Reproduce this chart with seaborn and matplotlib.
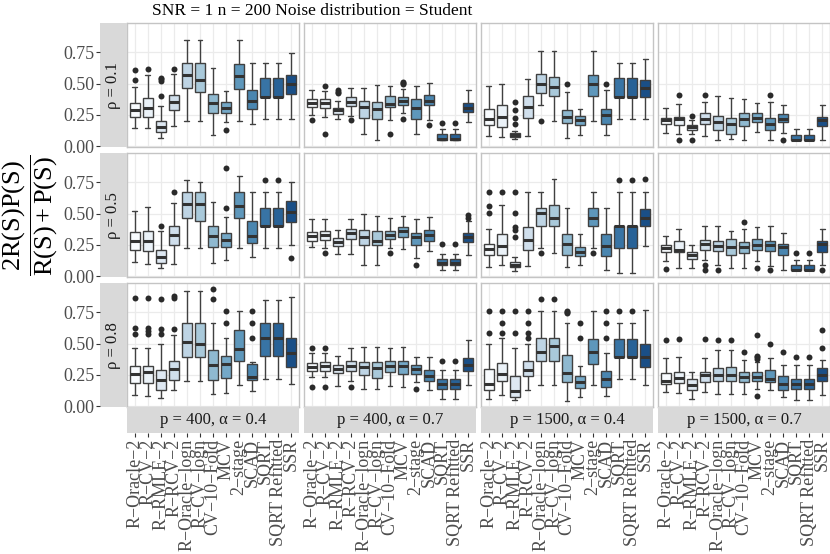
import numpy as np
import pandas as pd
import matplotlib
matplotlib.use("Agg")
import matplotlib.pyplot as plt
import seaborn as sns

methods = ["R−Oracle−2", "R−CV−2", "R−RMLE−2", "R−RCV−2", "R−Oracle−logn",
           "R−CV−logn", "CV−10−Fold", "MCV", "2−stage", "SCAD", "SQRT",
           "SQRT Refitted", "SSR"]
col_labels = ["p = 400, α = 0.4", "p = 400, α = 0.7",
              "p = 1500, α = 0.4", "p = 1500, α = 0.7"]
row_labels = ["ρ = 0.1", "ρ = 0.5", "ρ = 0.8"]
title = "SNR = 1 n = 200 Noise distribution = Student"

# box summaries, one row per panel (rho row by row, then p/alpha columns)
lo = [
    [0.145, 0.145, 0.066, 0.158, 0.203, 0.203, 0.089, 0.197, 0.203, 0.176, 0.221, 0.221, 0.221],
    [0.250, 0.237, 0.216, 0.242, 0.097, 0.053, 0.210, 0.263, 0.097, 0.210, 0.053, 0.053, 0.197],
    [0.079, 0.074, 0.058, 0.079, 0.329, 0.203, 0.066, 0.092, 0.203, 0.092, 0.221, 0.221, 0.221],
    [0.105, 0.100, 0.100, 0.079, 0.053, 0.061, 0.053, 0.110, 0.053, 0.105, 0.047, 0.047, 0.047],
    [0.117, 0.098, 0.066, 0.101, 0.226, 0.226, 0.106, 0.133, 0.226, 0.152, 0.226, 0.226, 0.253],
    [0.237, 0.226, 0.181, 0.181, 0.093, 0.093, 0.226, 0.218, 0.146, 0.199, 0.053, 0.053, 0.173],
    [0.072, 0.088, 0.040, 0.080, 0.226, 0.184, 0.074, 0.093, 0.226, 0.053, 0.027, 0.027, 0.239],
    [0.120, 0.066, 0.066, 0.133, 0.093, 0.066, 0.066, 0.120, 0.080, 0.048, 0.048, 0.048, 0.093],
    [0.087, 0.079, 0.065, 0.126, 0.200, 0.200, 0.095, 0.105, 0.166, 0.118, 0.218, 0.218, 0.179],
    [0.237, 0.232, 0.161, 0.205, 0.139, 0.139, 0.158, 0.153, 0.192, 0.132, 0.055, 0.055, 0.171],
    [0.061, 0.087, 0.047, 0.132, 0.166, 0.166, 0.042, 0.074, 0.171, 0.079, 0.218, 0.218, 0.166],
    [0.113, 0.105, 0.061, 0.113, 0.100, 0.100, 0.095, 0.139, 0.132, 0.074, 0.053, 0.053, 0.092],
]
q1 = [
    [0.237, 0.237, 0.111, 0.289, 0.468, 0.429, 0.266, 0.266, 0.460, 0.297, 0.395, 0.395, 0.418],
    [0.310, 0.303, 0.255, 0.321, 0.224, 0.221, 0.310, 0.329, 0.221, 0.326, 0.053, 0.053, 0.274],
    [0.171, 0.153, 0.071, 0.229, 0.426, 0.400, 0.184, 0.171, 0.400, 0.179, 0.395, 0.395, 0.395],
    [0.176, 0.166, 0.132, 0.179, 0.132, 0.100, 0.163, 0.195, 0.132, 0.195, 0.047, 0.047, 0.158],
    [0.210, 0.205, 0.106, 0.247, 0.465, 0.439, 0.231, 0.231, 0.465, 0.266, 0.399, 0.399, 0.434],
    [0.279, 0.293, 0.245, 0.298, 0.253, 0.247, 0.300, 0.314, 0.253, 0.279, 0.093, 0.093, 0.271],
    [0.168, 0.168, 0.072, 0.213, 0.399, 0.399, 0.168, 0.160, 0.399, 0.160, 0.226, 0.226, 0.399],
    [0.191, 0.191, 0.138, 0.213, 0.205, 0.173, 0.189, 0.213, 0.199, 0.173, 0.048, 0.048, 0.194],
    [0.184, 0.184, 0.126, 0.211, 0.395, 0.395, 0.213, 0.226, 0.363, 0.211, 0.397, 0.397, 0.316],
    [0.284, 0.284, 0.266, 0.284, 0.250, 0.224, 0.276, 0.258, 0.258, 0.205, 0.139, 0.139, 0.284],
    [0.132, 0.205, 0.074, 0.245, 0.363, 0.363, 0.192, 0.147, 0.337, 0.153, 0.395, 0.395, 0.311],
    [0.174, 0.187, 0.126, 0.197, 0.205, 0.205, 0.192, 0.205, 0.192, 0.126, 0.139, 0.139, 0.200],
]
med = [
    [0.289, 0.308, 0.150, 0.350, 0.571, 0.532, 0.342, 0.305, 0.560, 0.363, 0.395, 0.395, 0.500],
    [0.347, 0.342, 0.287, 0.355, 0.316, 0.300, 0.334, 0.363, 0.303, 0.363, 0.058, 0.058, 0.308],
    [0.218, 0.232, 0.087, 0.310, 0.500, 0.474, 0.237, 0.213, 0.500, 0.253, 0.395, 0.395, 0.463],
    [0.210, 0.216, 0.153, 0.221, 0.190, 0.179, 0.218, 0.229, 0.179, 0.218, 0.053, 0.053, 0.210],
    [0.285, 0.285, 0.157, 0.332, 0.577, 0.577, 0.319, 0.293, 0.564, 0.319, 0.399, 0.399, 0.511],
    [0.319, 0.332, 0.271, 0.343, 0.316, 0.285, 0.332, 0.359, 0.316, 0.327, 0.106, 0.106, 0.314],
    [0.221, 0.245, 0.093, 0.290, 0.503, 0.465, 0.258, 0.194, 0.465, 0.245, 0.404, 0.404, 0.465],
    [0.226, 0.213, 0.168, 0.258, 0.245, 0.234, 0.234, 0.253, 0.247, 0.231, 0.053, 0.053, 0.258],
    [0.258, 0.271, 0.211, 0.300, 0.513, 0.500, 0.326, 0.337, 0.455, 0.237, 0.542, 0.542, 0.426],
    [0.316, 0.321, 0.297, 0.321, 0.316, 0.303, 0.324, 0.318, 0.295, 0.239, 0.179, 0.179, 0.329],
    [0.179, 0.258, 0.118, 0.289, 0.429, 0.482, 0.268, 0.192, 0.429, 0.216, 0.395, 0.395, 0.395],
    [0.205, 0.226, 0.166, 0.250, 0.253, 0.253, 0.232, 0.237, 0.218, 0.179, 0.179, 0.179, 0.250],
]
q3 = [
    [0.342, 0.382, 0.205, 0.410, 0.663, 0.663, 0.416, 0.350, 0.655, 0.450, 0.542, 0.542, 0.568],
    [0.376, 0.374, 0.305, 0.392, 0.360, 0.353, 0.403, 0.390, 0.374, 0.410, 0.097, 0.097, 0.347],
    [0.300, 0.329, 0.105, 0.397, 0.574, 0.553, 0.290, 0.242, 0.571, 0.295, 0.545, 0.545, 0.526],
    [0.229, 0.237, 0.171, 0.266, 0.242, 0.229, 0.263, 0.268, 0.229, 0.255, 0.092, 0.092, 0.232],
    [0.351, 0.364, 0.213, 0.399, 0.670, 0.670, 0.399, 0.346, 0.670, 0.444, 0.545, 0.545, 0.598],
    [0.354, 0.364, 0.306, 0.380, 0.370, 0.364, 0.364, 0.394, 0.346, 0.367, 0.141, 0.141, 0.346],
    [0.261, 0.338, 0.112, 0.396, 0.545, 0.572, 0.340, 0.237, 0.545, 0.340, 0.404, 0.404, 0.537],
    [0.253, 0.285, 0.194, 0.293, 0.285, 0.298, 0.274, 0.298, 0.285, 0.258, 0.093, 0.093, 0.285],
    [0.321, 0.324, 0.289, 0.363, 0.660, 0.660, 0.447, 0.397, 0.608, 0.337, 0.660, 0.660, 0.547],
    [0.347, 0.353, 0.332, 0.363, 0.355, 0.355, 0.363, 0.363, 0.332, 0.292, 0.218, 0.218, 0.384],
    [0.295, 0.347, 0.242, 0.361, 0.542, 0.542, 0.408, 0.242, 0.534, 0.284, 0.539, 0.539, 0.495],
    [0.266, 0.274, 0.216, 0.276, 0.305, 0.311, 0.271, 0.271, 0.292, 0.239, 0.218, 0.218, 0.305],
]
hi = [
    [0.474, 0.566, 0.321, 0.579, 0.850, 0.850, 0.626, 0.437, 0.850, 0.660, 0.660, 0.660, 0.745],
    [0.447, 0.442, 0.360, 0.466, 0.466, 0.492, 0.479, 0.460, 0.479, 0.505, 0.137, 0.137, 0.447],
    [0.479, 0.500, 0.124, 0.539, 0.763, 0.763, 0.434, 0.300, 0.763, 0.447, 0.663, 0.663, 0.697],
    [0.303, 0.334, 0.210, 0.355, 0.403, 0.382, 0.379, 0.342, 0.355, 0.329, 0.137, 0.137, 0.329],
    [0.524, 0.551, 0.359, 0.585, 0.771, 0.750, 0.590, 0.471, 0.800, 0.670, 0.670, 0.670, 0.750],
    [0.457, 0.457, 0.367, 0.457, 0.500, 0.479, 0.465, 0.479, 0.457, 0.471, 0.178, 0.178, 0.439],
    [0.380, 0.572, 0.152, 0.670, 0.670, 0.779, 0.545, 0.338, 0.670, 0.545, 0.670, 0.670, 0.670],
    [0.319, 0.378, 0.247, 0.399, 0.399, 0.359, 0.378, 0.394, 0.399, 0.346, 0.133, 0.133, 0.378],
    [0.468, 0.468, 0.500, 0.568, 0.921, 0.921, 0.660, 0.542, 0.763, 0.350, 0.850, 0.850, 0.868],
    [0.421, 0.421, 0.403, 0.463, 0.476, 0.476, 0.468, 0.474, 0.389, 0.389, 0.292, 0.292, 0.529],
    [0.500, 0.542, 0.468, 0.500, 0.763, 0.763, 0.660, 0.318, 0.763, 0.426, 0.660, 0.660, 0.771],
    [0.384, 0.389, 0.271, 0.384, 0.447, 0.450, 0.368, 0.350, 0.384, 0.329, 0.329, 0.329, 0.371],
]
# outliers per panel: method index -> values
fliers = [
    {0: [0.61, 0.526], 1: [0.616], 2: [0.547, 0.534, 0.521, 0.40], 3: [0.616], 7: [0.13]},
    {0: [0.21], 1: [0.482, 0.095], 2: [0.447, 0.434, 0.421], 3: [0.21], 6: [0.097],
     7: [0.516, 0.505, 0.495, 0.221], 9: [0.171], 10: [0.182], 11: [0.182]},
    {2: [0.355, 0.29, 0.224, 0.176], 4: [0.203], 6: [0.5], 9: [0.5]},
    {1: [0.405, 0.053], 2: [0.242, 0.053], 3: [0.405], 8: [0.405], 9: [0.053]},
    {2: [0.399], 3: [0.67], 7: [0.545, 0.859], 10: [0.771], 11: [0.771], 12: [0.146]},
    {1: [0.186], 6: [0.186], 8: [0.093], 10: [0.261], 11: [0.261], 12: [0.487, 0.465]},
    {0: [0.67, 0.559, 0.505], 1: [0.67], 2: [0.67, 0.505, 0.391, 0.372, 0.314], 4: [0.184],
     8: [0.184], 10: [0.771], 11: [0.771], 12: [0.779]},
    {0: [0.061], 3: [0.093, 0.048], 4: [0.048], 6: [0.434], 7: [0.066], 8: [0.048],
     10: [0.184], 11: [0.184], 12: [0.048]},
    {0: [0.863, 0.626, 0.574], 1: [0.863, 0.626, 0.603, 0.579], 2: [0.858, 0.613, 0.574],
     3: [0.876, 0.863, 0.613], 6: [0.937, 0.855], 7: [0.763, 0.66], 9: [0.763, 0.66, 0.542]},
    {0: [0.466, 0.153], 1: [0.466, 0.153], 3: [0.153], 8: [0.139], 10: [0.363], 11: [0.363]},
    {0: [0.763, 0.587], 1: [0.763, 0.666, 0.587], 2: [0.763, 0.587], 3: [0.763, 0.666, 0.587, 0.542],
     4: [0.855], 5: [0.855], 6: [0.763, 0.753, 0.74], 7: [0.66, 0.542], 9: [0.763, 0.66, 0.542],
     10: [0.763], 11: [0.763]},
    {0: [0.529], 1: [0.539], 3: [0.539], 4: [0.529], 5: [0.529], 6: [0.429],
     7: [0.568, 0.403, 0.389, 0.376, 0.082], 8: [0.5], 9: [0.429], 10: [0.395], 11: [0.395],
     12: [0.608, 0.463]},
]

# long tables for seaborn
rows = []
for k in range(12):
    for j, m in enumerate(methods):
        for v in (lo[k][j], q1[k][j], med[k][j], q3[k][j], hi[k][j]):
            rows.append((k, m, v))
df = pd.DataFrame(rows, columns=["panel", "method", "value"])
frows = [(k, methods[j], v) for k in range(12) for j, vals in fliers[k].items() for v in vals]
fdf = pd.DataFrame(frows, columns=["panel", "method", "value"])

sns.set_theme(style="white")
plt.rcParams["font.family"] = ["Liberation Serif", "DejaVu Serif"]
plt.rcParams["mathtext.fontset"] = "custom"
plt.rcParams["mathtext.rm"] = "Liberation Serif"
plt.rcParams["mathtext.it"] = "Liberation Serif:italic"

cmap = plt.get_cmap("Blues")
pal = [cmap(v) for v in np.linspace(0.0, 0.88, len(methods))]

W, H = 830, 554
fig = plt.figure(figsize=(W / 100, H / 100), dpi=100)


def rect(x, y, w, h):
    return [x / W, 1 - (y + h) / H, w / W, h / H]


XLIM = (-0.6, len(methods) - 0.4)
YLIM = (-0.008, 0.98)
yt = [0, 0.25, 0.5, 0.75]
pw, ph = 172, 124

for k in range(12):
    r, c = divmod(k, 4)
    x0 = 127 + c * 177
    y0 = 23.3 + r * 130
    ax = fig.add_axes(rect(x0, y0, pw, ph))
    sns.boxplot(data=df[df.panel == k], x="method", y="value", hue="method",
                order=methods, hue_order=methods, palette=pal, width=0.75,
                whis=(0, 100), showfliers=False, linecolor="#404040", linewidth=1.0,
                medianprops={"linewidth": 2.2, "color": "#333333"},
                legend=False, ax=ax)
    sub = fdf[fdf.panel == k]
    if len(sub):
        sns.stripplot(data=sub, x="method", y="value", order=methods, jitter=False,
                      color="#2a2a2a", size=4.3, ax=ax)
    ax.set_xlim(XLIM)
    ax.set_ylim(YLIM)
    ax.set_xticks(range(len(methods)))
    ax.set_yticks(yt)
    ax.set_xticklabels([])
    ax.set_yticklabels([])
    ax.tick_params(length=0)
    ax.set_xlabel("")
    ax.set_ylabel("")
    ax.grid(True, color="#ebebeb", linewidth=0.9)
    ax.set_axisbelow(True)
    for s in ax.spines.values():
        s.set_color("#c4c4c4")
        s.set_linewidth(1.0)

    if c == 0:
        sax = fig.add_axes(rect(100, y0, 26.5, ph))
        sax.set_facecolor("#d9d9d9")
        sax.set_ylim(YLIM)
        sax.set_xticks([])
        sax.set_yticks(yt)
        sax.set_yticklabels([f"{v:.2f}" for v in yt])
        sax.tick_params(axis="y", length=3, width=0.8, color="#333333", pad=1,
                        labelsize=13, labelcolor="#4d4d4d", left=True)
        for s in sax.spines.values():
            s.set_visible(False)
        sax.text(0.5, 0.5, row_labels[r], rotation=90, ha="center", va="center",
                 fontsize=12, color="#1a1a1a", transform=sax.transAxes)

    if r == 2:
        bax = fig.add_axes(rect(x0, 407, pw, 26))
        bax.set_facecolor("#d9d9d9")
        bax.set_xlim(XLIM)
        bax.set_yticks([])
        bax.set_xticks(range(len(methods)))
        bax.set_xticklabels(methods, rotation=90, ha="center", va="top")
        bax.tick_params(axis="x", length=3, width=0.8, color="#333333", pad=1,
                        labelsize=13, labelcolor="#4d4d4d", bottom=True)
        for s in bax.spines.values():
            s.set_visible(False)
        bax.text(0.5, 0.5, col_labels[c], ha="center", va="center",
                 fontsize=12, color="#1a1a1a", transform=bax.transAxes)

fig.text(152 / W, 1 - 11 / H, title, ha="left", va="center", fontsize=12.5, color="black")
fig.text(30 / W, 1 - 215 / H, r"$\dfrac{\mathrm{2R(S)P(S)}}{\mathrm{R(S)+P(S)}}$",
         rotation=90, ha="center", va="center", fontsize=19, color="black")

fig.savefig("out.png", dpi=100)
